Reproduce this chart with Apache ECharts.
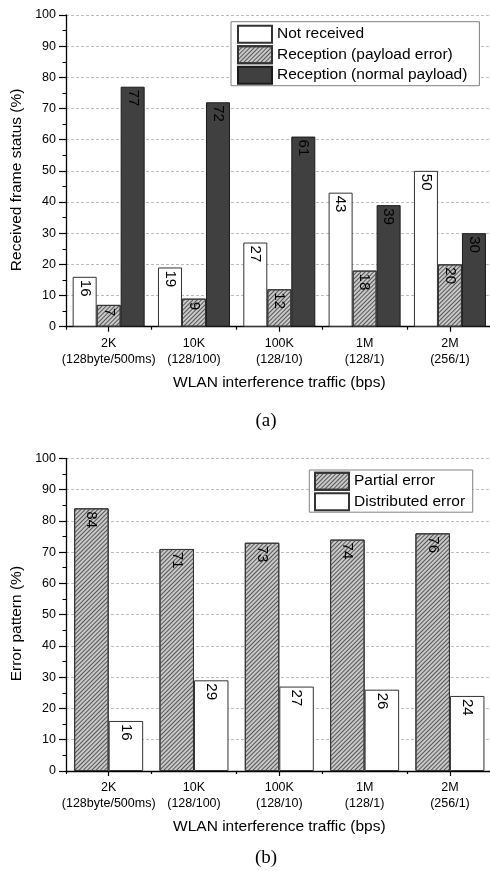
<!DOCTYPE html>
<html>
<head>
<meta charset="utf-8">
<script src="https://cdn.jsdelivr.net/npm/echarts@6/dist/echarts.min.js"></script>
<style>
  html, body { margin: 0; padding: 0; background: #fff; }
  #chart { width: 490px; height: 871px; }
</style>
</head>
<body>
<div id="chart"></div>
<script>
// Traffic categories shared by both panels
const categories = ['2K\n(128byte/500ms)', '10K\n(128/100)', '100K\n(128/10)', '1M\n(128/1)', '2M\n(256/1)'];

// Panel (a): received frame status (%)
const notReceived   = [16, 19, 27, 43, 50];
const payloadError  = [7, 9, 12, 18, 20];
const normalPayload = [77, 72, 61, 39, 30];

// Panel (b): error pattern (%)
const partialError     = [84, 71, 73, 74, 76];
const distributedError = [16, 29, 27, 26, 24];

// Percentage axis range and step
const yMin = 0, yMax = 100, yStep = 10;

const FONT = '"Liberation Sans", Arial, sans-serif';

// Fine diagonal hatching for the "error" series
const hatch = {
  symbol: 'rect', symbolSize: 1,
  dashArrayX: [1, 0], dashArrayY: [1, 2],
  rotation: -Math.PI / 4, color: '#555555'
};

const styles = {
  white: { color: '#ffffff', borderColor: '#333', borderWidth: 1 },
  hatched: { color: '#c9c9c9', borderColor: '#333', borderWidth: 1, decal: hatch },
  dark: { color: '#404040', borderColor: '#1a1a1a', borderWidth: 1 }
};

const valueLabel = {
  show: true, position: 'insideTop', distance: 3, rotate: -90,
  align: 'left', verticalAlign: 'middle',
  fontFamily: FONT, fontSize: 15, color: '#000'
};

function yAxisFor(gridIndex, name) {
  return {
    type: 'value', gridIndex, min: yMin, max: yMax, interval: yStep,
    name, nameLocation: 'middle', nameGap: 40,
    nameTextStyle: { fontFamily: FONT, fontSize: 15.5, color: '#000', padding: [0, 18, 0, 0] },
    axisLine: { show: true, lineStyle: { color: '#000', width: 1.3 } },
    axisTick: { show: true, length: 7, lineStyle: { color: '#000', width: 1.2 } },
    minorTick: { show: true, splitNumber: 2, length: 3.5, lineStyle: { color: '#000', width: 1 } },
    axisLabel: { fontFamily: FONT, fontSize: 12.5, color: '#000', margin: 10 },
    splitLine: { show: true, lineStyle: { color: '#bdbdbd', type: [3, 2], width: 1 } }
  };
}

function xAxesFor(gridIndex) {
  return [
    {
      type: 'category', gridIndex, data: categories, position: 'bottom',
      name: 'WLAN interference traffic (bps)', nameLocation: 'middle', nameGap: 48,
      nameTextStyle: { fontFamily: FONT, fontSize: 15.5, color: '#000' },
      axisLine: { show: true, lineStyle: { color: '#000', width: 1.3 } },
      axisTick: { show: true, alignWithLabel: false, length: 3, lineStyle: { color: '#000', width: 1.2 } },
      axisLabel: { fontFamily: FONT, fontSize: 12.5, color: '#000', margin: 9, lineHeight: 16, interval: 0 },
      splitLine: { show: false }
    },
    {
      type: 'category', gridIndex, data: categories, position: 'bottom',
      axisLine: { show: false },
      axisTick: { show: true, alignWithLabel: true, length: 5, lineStyle: { color: '#000', width: 1.2 } },
      axisLabel: { show: false },
      splitLine: { show: false }
    }
  ];
}

function barSeries(name, data, style, xAxisIndex, yAxisIndex, width) {
  return {
    name, type: 'bar', data, xAxisIndex, yAxisIndex,
    barWidth: width, barGap: '0%',
    itemStyle: style, label: valueLabel,
    emphasis: { disabled: true }
  };
}

const legendText = { fontFamily: FONT, fontSize: 15.5, color: '#000', lineHeight: 17 };

const option = {
  animation: false,
  backgroundColor: '#fff',
  grid: [
    { left: 66, top: 15, width: 426.6, height: 311.7, containLabel: false, outerBoundsMode: 'none' },
    { left: 66, top: 458.3, width: 426.6, height: 312.7, containLabel: false, outerBoundsMode: 'none' }
  ],
  xAxis: [...xAxesFor(0), ...xAxesFor(1)],
  yAxis: [yAxisFor(0, 'Received frame status (%)'), yAxisFor(1, 'Error pattern (%)')],
  legend: [
    {
      data: ['Not received', 'Reception (payload error)', 'Reception (normal payload)'],
      orient: 'vertical', left: 231, top: 21.7,
      itemWidth: 34, itemHeight: 17, itemGap: 1.5,
      padding: [3, 12, 1, 6],
      backgroundColor: '#fff', borderColor: '#808080', borderWidth: 1,
      icon: 'rect', textStyle: legendText, selectedMode: false
    },
    {
      data: ['Partial error', 'Distributed error'],
      orient: 'vertical', left: 309.3, top: 470,
      itemWidth: 34, itemHeight: 17, itemGap: 1.5,
      padding: [1.7, 7.6, 1, 4.7],
      backgroundColor: '#fff', borderColor: '#808080', borderWidth: 1,
      icon: 'rect', textStyle: legendText, selectedMode: false
    }
  ],
  series: [
    barSeries('Not received', notReceived, styles.white, 0, 0, 24),
    barSeries('Reception (payload error)', payloadError, styles.hatched, 0, 0, 24),
    barSeries('Reception (normal payload)', normalPayload, styles.dark, 0, 0, 24),
    barSeries('Partial error', partialError, styles.hatched, 2, 1, 34.5),
    barSeries('Distributed error', distributedError, styles.white, 2, 1, 34.5)
  ],
  graphic: [
    { type: 'text', x: 266, y: 421, style: { text: '(a)', font: '19px "Liberation Serif", "Times New Roman", serif', fill: '#000', align: 'center', verticalAlign: 'middle' } },
    { type: 'text', x: 266, y: 858, style: { text: '(b)', font: '19px "Liberation Serif", "Times New Roman", serif', fill: '#000', align: 'center', verticalAlign: 'middle' } }
  ]
};

const chart = echarts.init(document.getElementById('chart'), null, { renderer: 'canvas' });
chart.setOption(option);
</script>
</body>
</html>
